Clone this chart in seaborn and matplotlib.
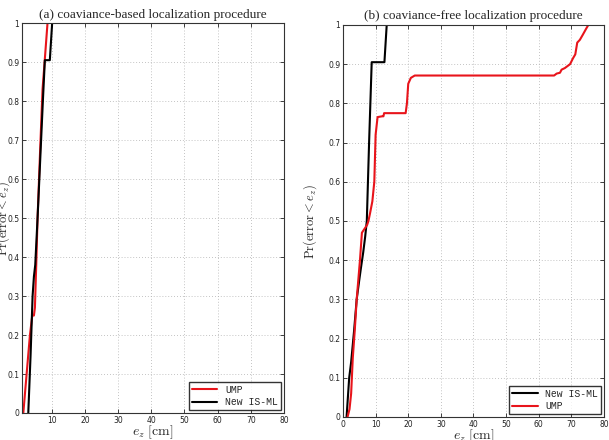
import numpy as np
import pandas as pd
import seaborn as sns
import matplotlib.pyplot as plt

# ── data (CDF of localisation error e_z) ─────────────────────────────────
# (a) covariance-based
a_isml_x = [2.9, 3.6, 4.2, 4.6, 5.0, 5.7, 6.5, 7.3, 7.9, 9.4, 10.1]
a_isml_y = [0.0, 0.15, 0.30, 0.35, 0.38, 0.50, 0.65, 0.80, 0.905, 0.905, 1.0]
a_ump_x = [1.4, 2.4, 3.4, 4.1, 4.6, 4.9, 5.3, 5.7, 6.5, 7.2, 8.0, 8.7]
a_ump_y = [0.0, 0.10, 0.20, 0.25, 0.25, 0.27, 0.38, 0.50, 0.68, 0.83, 0.92, 1.0]

# (b) covariance-free
b_isml_x = [1.1, 1.9, 2.5, 3.4, 4.2, 5.0, 5.5, 6.2, 6.8, 7.3, 8.0, 8.8, 12.7, 13.4]
b_isml_y = [0.0, 0.10, 0.14, 0.22, 0.30, 0.35, 0.38, 0.42, 0.46, 0.50, 0.70, 0.905, 0.905, 1.0]
b_ump_x = [1.4, 2.0, 2.5, 3.0, 3.6, 4.2, 5.2, 5.8, 6.6, 7.4, 7.8, 8.3, 9.0, 9.6,
           10.0, 10.6, 12.0, 12.4, 12.6, 19.2, 19.6, 20.0, 20.8, 22.0, 64.7,
           65.5, 66.5, 67.0, 68.0, 69.6, 70.5, 71.2, 71.8, 72.6, 73.5, 74.5, 75.2]
b_ump_y = [0.0, 0.02, 0.06, 0.15, 0.22, 0.30, 0.40, 0.47, 0.48, 0.49, 0.50, 0.52, 0.55, 0.60,
           0.72, 0.765, 0.767, 0.767, 0.775, 0.775, 0.80, 0.85, 0.865, 0.871, 0.871,
           0.876, 0.878, 0.886, 0.890, 0.90, 0.915, 0.925, 0.955, 0.962, 0.975, 0.99, 1.0]

titles = ["(a) coaviance-based localization procedure",
          "(b) coaviance-free localization procedure"]

def frame(series):
    rows = []
    for name, xs, ys in series:
        for x, y in zip(xs, ys):
            rows.append({"e": x, "p": y, "method": name})
    return pd.DataFrame(rows)

df_a = frame([("UMP", a_ump_x, a_ump_y), ("New IS-ML", a_isml_x, a_isml_y)])
df_b = frame([("New IS-ML", b_isml_x, b_isml_y), ("UMP", b_ump_x, b_ump_y)])

sns.set_theme(style="white")
plt.rcParams["mathtext.fontset"] = "cm"

pal = {"UMP": "#e8141b", "New IS-ML": "#000000"}

fig = plt.figure(figsize=(6.09, 4.40), dpi=100)
ax_a = fig.add_axes([0.0361, 0.0614, 0.430, 0.886])
ax_b = fig.add_axes([0.5632, 0.0523, 0.4286, 0.891])

for ax, df, title, xmin in [(ax_a, df_a, titles[0], 1), (ax_b, df_b, titles[1], 0)]:
    sns.lineplot(data=df, x="e", y="p", hue="method", palette=pal, sort=False,
                 estimator=None, linewidth=1.5, ax=ax)
    ax.set_xlim(xmin, 80)
    ax.set_ylim(0, 1)
    ax.set_xticks(np.arange(10, 81, 10) if xmin else np.arange(0, 81, 10))
    ax.set_yticks(np.arange(0, 1.01, 0.1))
    ax.set_yticklabels(["0"] + [f"{v:.1f}" for v in np.arange(0.1, 0.95, 0.1)] + ["1"])
    ax.tick_params(direction="in", length=3, width=0.6, labelsize=5.5, top=True, right=True,
                   bottom=True, left=True, pad=2, colors="#222222")
    ax.grid(True, linestyle=(0, (1, 2.5)), color="#b0b0b0", linewidth=0.6)
    for s in ax.spines.values():
        s.set_color("#333333")
        s.set_linewidth(0.8)
    ax.set_title(title, family=["Liberation Serif", "DejaVu Serif"], fontsize=9.5, pad=4)
    ax.set_xlabel(r"$e_z\ \mathrm{[cm]}$", fontsize=10, labelpad=-1)
    ax.set_ylabel(r"$\mathrm{Pr(error} < e_z)$", fontsize=9)
    leg = ax.legend(loc="lower right", frameon=True, fancybox=False,
                    borderaxespad=0.3, handlelength=2.6, borderpad=0.3, labelspacing=0.25,
                    prop={"family": "Liberation Mono", "size": 7})
    leg.get_frame().set_edgecolor("black")
    leg.get_frame().set_linewidth(1.0)

ax_a.yaxis.set_label_coords(-0.04, 0.5)
ax_b.yaxis.set_label_coords(-0.09, 0.5)

fig.savefig("out.png", dpi=100)
